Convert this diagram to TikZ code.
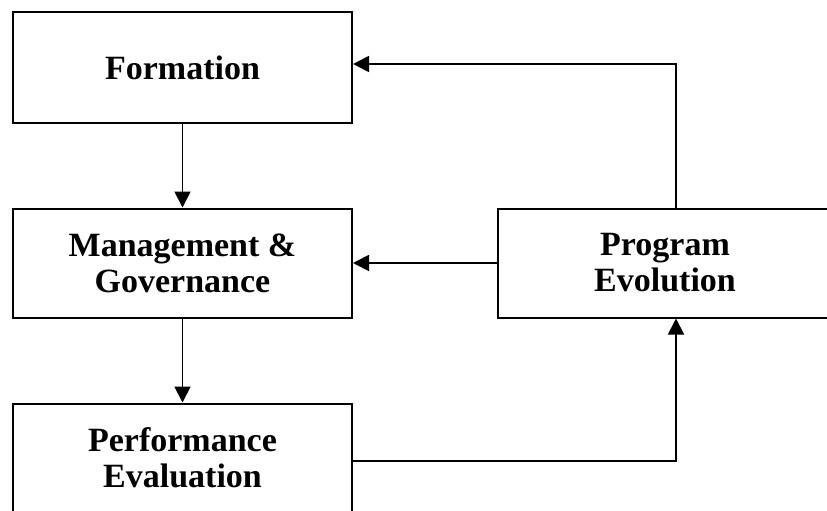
\documentclass[tikz,border=0pt]{standalone}
\usepackage{fontspec}
\setmainfont{Liberation Serif}
\usetikzlibrary{arrows.meta}
\begin{document}
\begin{tikzpicture}[x=1pt,y=-1pt,
  stage/.style={draw=black, line width=2pt, fill=white, align=center,
    inner sep=0pt, minimum width=339pt, minimum height=109pt,
    font=\fontsize{34}{36}\selectfont\bfseries},
  flow/.style={draw=black, line width=1.8pt,
    -{Triangle[length=16pt,width=16pt]}}]
  \useasboundingbox (0,0) rectangle (827,511);
  % stages of the program
  \node[stage, minimum height=111pt] (form) at (182.5,67.5) {Formation};
  \node[stage] (mgmt) at (182.5,263) {Management \&\\Governance};
  \node[stage] (perf) at (182.5,458) {Performance\\Evaluation};
  \node[stage, minimum width=334pt] (prog) at (665,263) {Program\\Evolution};
  % turning points of the feedback loop
  \coordinate (loopTop) at (676,64);
  \coordinate (loopBot) at (676,461);
  % connectors
  \draw[flow] (form) -- (mgmt);
  \draw[flow] (mgmt) -- (perf);
  \draw[flow] (prog) -- (mgmt);
  \draw[flow] (perf.east |- loopBot) -- (loopBot) -- (loopBot |- prog.south);
  \draw[flow] (loopTop |- prog.north) -- (loopTop) -- (form.east |- loopTop);
\end{tikzpicture}
\end{document}
